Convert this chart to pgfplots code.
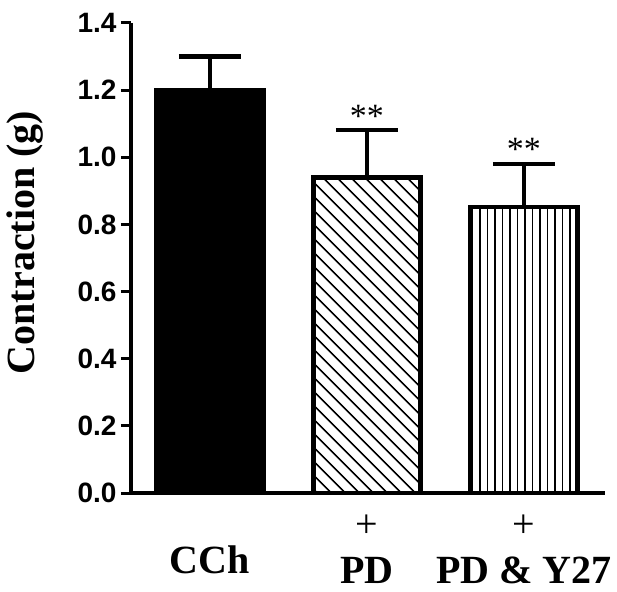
\documentclass[border=0pt]{standalone}
\usepackage{fontspec}
\setmainfont{Liberation Serif}
\newfontfamily\tickfont{Liberation Sans}
\usepackage{pgfplots}
\pgfplotsset{compat=1.18}
\usetikzlibrary{patterns.meta}
\begin{document}
\begin{tikzpicture}
\useasboundingbox (0,0) rectangle (617pt,591pt);
\begin{axis}[
  at={(131pt,98pt)}, anchor=south west,
  scale only axis, width=474pt, height=470pt,
  xmin=-0.503, xmax=2.516, ymin=0, ymax=1.4,
  axis lines=left, axis line style={line width=4.5pt, -},
  ytick={0,0.2,...,1.4},
  yticklabel style={/pgf/number format/fixed, /pgf/number format/fixed zerofill, /pgf/number format/precision=1, /pgf/number format/assume math mode=true, font=\tickfont\bfseries\fontsize{28}{30}\selectfont, xshift=-1pt},
  ytick style={line width=3pt, black},
  tick align=outside, major tick length=10pt,
  xtick={0,1,2}, xtick style={draw=none},
  xticklabels={{\mbox{}\\[15pt]\textbf{CCh}}, {+\\[2pt]\textbf{PD}}, {+\\[2pt]\textbf{PD \& Y27}}},
  xticklabel style={align=center, font=\fontsize{40}{44}\selectfont, yshift=-8pt},
  ylabel={\textbf{Contraction (g)}},
  ylabel style={font=\fontsize{40}{44}\selectfont, at={(axis description cs:-0.223,0.533)}, anchor=center},
  clip=false,
]
\addplot[ybar, bar shift=0pt, bar width=107pt, fill=black, draw=black, line width=4.5pt,
  error bars/.cd, y dir=plus, y explicit, error bar style={line width=4.5pt, black}, error mark options={line width=4.5pt, mark size=31pt, black, rotate=90}]
  coordinates {(0,1.20) +- (0,0.10)};
\addplot[ybar, bar shift=0pt, bar width=107pt, pattern={Lines[angle=-45,distance=10.5pt,line width=2pt]}, pattern color=black, draw=black, line width=4.5pt,
  error bars/.cd, y dir=plus, y explicit, error bar style={line width=4.5pt, black}, error mark options={line width=4.5pt, mark size=31pt, black, rotate=90}]
  coordinates {(1,0.94) +- (0,0.141)};
\addplot[ybar, bar shift=0pt, bar width=107pt, pattern={Lines[angle=90,distance=7.5pt,line width=1.6pt]}, pattern color=black, draw=black, line width=4.5pt,
  error bars/.cd, y dir=plus, y explicit, error bar style={line width=4.5pt, black}, error mark options={line width=4.5pt, mark size=31pt, black, rotate=90}]
  coordinates {(2,0.852) +- (0,0.128)};
\node[anchor=base, font=\fontsize{34}{36}\selectfont, inner sep=0pt] at (axis cs:1,1.09) {**};
\node[anchor=base, font=\fontsize{34}{36}\selectfont, inner sep=0pt] at (axis cs:2,0.99) {**};
\end{axis}
\end{tikzpicture}
\end{document}
